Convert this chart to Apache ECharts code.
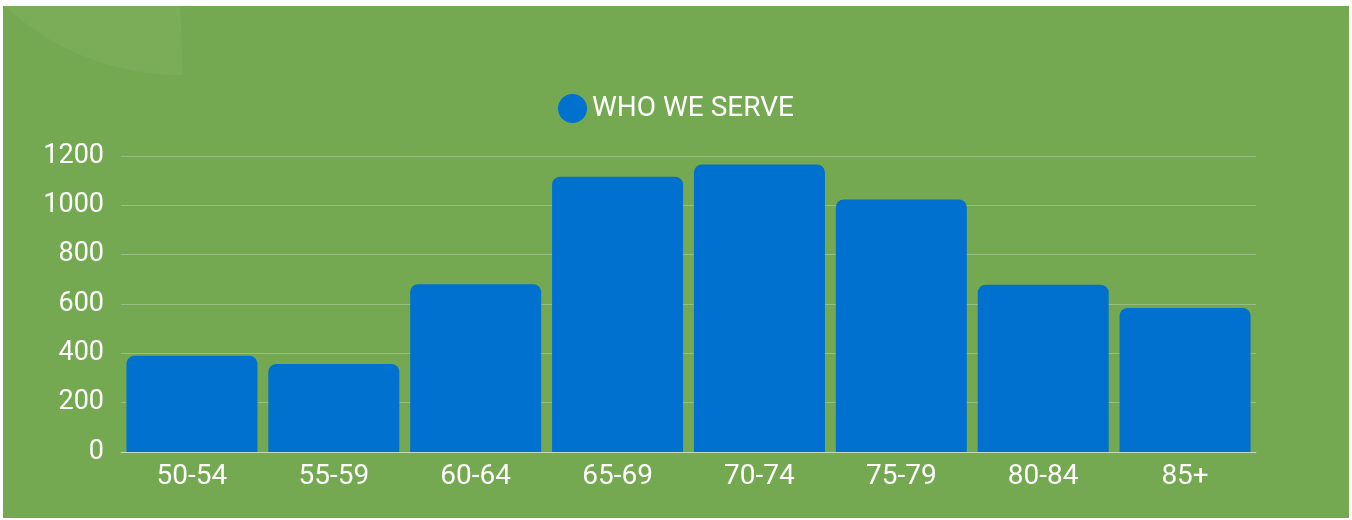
<!DOCTYPE html>
<html>
<head>
<meta charset="utf-8">
<script src="https://cdn.jsdelivr.net/npm/echarts@6/dist/echarts.min.js"></script>
<style>
html,body{margin:0;padding:0;background:#ffffff;}
#chart{width:1352px;height:520px;}
</style>
</head>
<body>
<div id="chart"></div>
<script>
const categories = ['50-54','55-59','60-64','65-69','70-74','75-79','80-84','85+'];
const seriesName = 'WHO WE SERVE';
const values = [390, 357, 680, 1116, 1166, 1024, 678, 584];
const yTicks = {min: 0, max: 1200, interval: 200};

// decorative light shape in the top-left corner (part of a large circle)
function decoPoints() {
  const cx = 181, cy = -184, r = 259;
  const pts = [[3, 6], [180, 6], [183, 75]];
  const a0 = Math.atan2(75 - cy, 183 - cx);
  const a1 = Math.atan2(6 - cy, 3 - cx);
  const n = 40;
  for (let i = 1; i <= n; i++) {
    const a = a0 + (a1 - a0) * i / n;
    pts.push([cx + r * Math.cos(a), Math.max(6, cy + r * Math.sin(a))]);
  }
  return pts;
}

const chart = echarts.init(document.getElementById('chart'), null, {renderer: 'canvas'});
const font = 'Roboto, "Noto Sans", sans-serif';
chart.setOption({
  backgroundColor: 'transparent',
  animation: false,
  graphic: [
    {type: 'rect', z: -10, shape: {x: 3, y: 6, width: 1346, height: 512}, style: {fill: '#74a951'}},
    {type: 'polygon', z: -9, shape: {points: decoPoints()}, style: {fill: 'rgba(255,255,255,0.05)'}}
  ],
  legend: {
    top: 89,
    left: 'center',
    icon: 'circle',
    itemWidth: 29,
    itemHeight: 29,
    itemGap: 10,
    textStyle: {color: '#ffffff', fontSize: 28, fontFamily: font},
    data: [seriesName]
  },
  grid: {left: 121, right: 96, top: 156, bottom: 68, containLabel: false},
  xAxis: {
    type: 'category',
    data: categories,
    axisLine: {show: true, lineStyle: {color: 'rgba(255,255,255,0.45)', width: 1}},
    axisTick: {show: false},
    axisLabel: {color: '#ffffff', fontSize: 28, fontFamily: font, margin: 11},
    splitLine: {show: false}
  },
  yAxis: {
    type: 'value',
    min: yTicks.min,
    max: yTicks.max,
    interval: yTicks.interval,
    axisLine: {show: false},
    axisTick: {show: false},
    axisLabel: {color: '#ffffff', fontSize: 27, fontFamily: font, margin: 17, formatter: v => String(v)},
    splitLine: {show: true, lineStyle: {color: 'rgba(255,255,255,0.25)', width: 1}}
  },
  series: [{
    name: seriesName,
    type: 'bar',
    data: values,
    barWidth: 131,
    itemStyle: {color: '#0071ce', borderRadius: [8, 8, 0, 0]}
  }]
});
</script>
</body>
</html>
